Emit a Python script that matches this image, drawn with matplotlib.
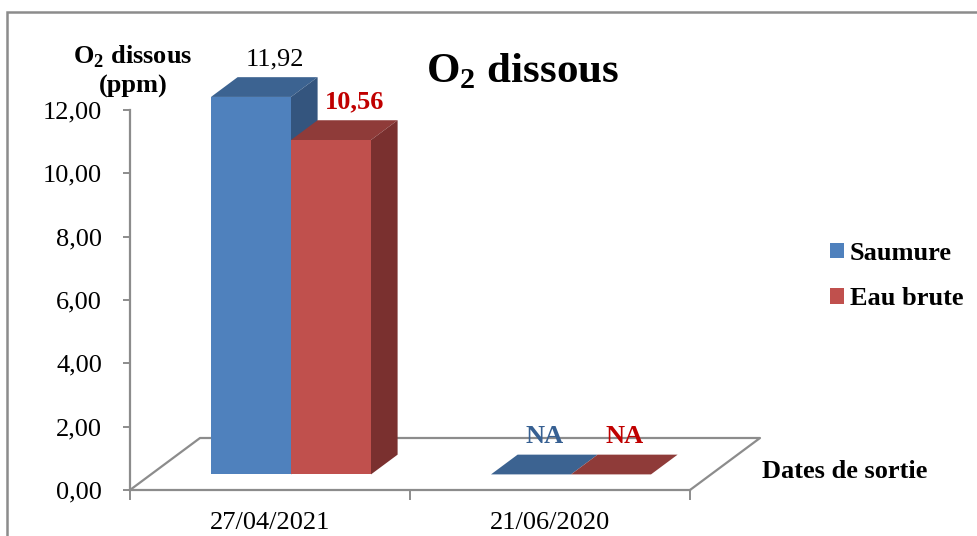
import numpy as np
import matplotlib
matplotlib.use("Agg")
import matplotlib.pyplot as plt
from matplotlib.patches import Polygon, Patch, Rectangle
from matplotlib.lines import Line2D
from matplotlib.transforms import Affine2D

# ---- data ----
dates = ["27/04/2021", "21/06/2020"]
saumure = [11.92, None]     # None -> value not available (NA)
eau_brute = [10.56, None]
series_names = ["Saumure", "Eau brute"]
y_ticks = [0, 2, 4, 6, 8, 10, 12]

# ---- style ----
SERIF = "Liberation Serif"
plt.rcParams["font.family"] = SERIF
plt.rcParams["mathtext.fontset"] = "custom"
plt.rcParams["mathtext.rm"] = SERIF
plt.rcParams["mathtext.bf"] = SERIF + ":bold"
FS = 19
GRAY = "#8c8c8c"

faces = {
    "Saumure": dict(front="#4F81BD", top="#3C6391", side="#34557E", label="#376092"),
    "Eau brute": dict(front="#C0504D", top="#8F3B39", side="#7A302F", label="#C00000"),
}

W, H = 978, 536
fig = plt.figure(figsize=(W / 100, H / 100), dpi=100)
ax = fig.add_axes([130 / W, (H - 490) / H, 560 / W, 380 / H])
ax.set_xlim(-0.5, 1.5)
ax.set_ylim(0, 12)
for s in ("top", "right"):
    ax.spines[s].set_visible(False)
for s in ("left", "bottom"):
    ax.spines[s].set_color(GRAY)
    ax.spines[s].set_linewidth(1.6)
ax.patch.set_alpha(0)

ax.set_yticks(y_ticks)
ax.set_yticklabels([f"{v:.2f}".replace(".", ",") for v in y_ticks], fontsize=FS)
ax.tick_params(axis="y", direction="out", length=5, width=1.4, color=GRAY, pad=15)
ax.set_xticks([-0.5, 0.5, 1.5])
ax.set_xticklabels([])
ax.tick_params(axis="x", which="major", direction="out", length=7, width=1.4, color=GRAY)
ax.set_xticks([0, 1], minor=True)
ax.set_xticklabels(dates, minor=True, fontsize=FS)
ax.tick_params(axis="x", which="minor", length=0, pad=16)

# depth direction of the 3-D floor (pixels) and data-per-pixel factors
DX, DY = 70.0, 52.0
sx = ax.bbox.width / 2.0
sy = ax.bbox.height / 12.0


def proj(x, y, z):
    """Point at data (x, y) pushed back to depth z (0 = front, 1 = back)."""
    return (x + z * DX / sx, y + z * DY / sy)


# floor outline
floor = [proj(-0.5, 0, 0), proj(-0.5, 0, 1), proj(1.5, 0, 1), proj(1.5, 0, 0)]
ax.add_line(Line2D([p[0] for p in floor], [p[1] for p in floor],
                   color=GRAY, lw=1.6, clip_on=False, zorder=1))

# 3-D bars
Z0, Z1 = 0.30, 0.68
bw = 80 / sx
xpos = np.arange(len(dates))
label_dx = [32, 25]          # label offset (points) per date group
front_shift = Affine2D().translate(Z0 * DX, Z0 * DY)
for k, (name, vals) in enumerate(zip(series_names, [saumure, eau_brute])):
    c = faces[name]
    heights = [0.0 if v is None else v for v in vals]
    xs = xpos - bw / 2 + k * bw
    ax.bar(xs, heights, width=bw, color=c["front"], edgecolor="none",
           transform=ax.transData + front_shift, clip_on=False, zorder=3 + k)
    for i, (xc, h, v) in enumerate(zip(xs, heights, vals)):
        x0, x1 = xc - bw / 2, xc + bw / 2
        top = [proj(x0, h, Z0), proj(x1, h, Z0), proj(x1, h, Z1), proj(x0, h, Z1)]
        ax.add_patch(Polygon(top, closed=True, facecolor=c["top"], edgecolor="none",
                             clip_on=False, zorder=3 + k))
        if h > 0:
            side = [proj(x1, 0, Z0), proj(x1, h, Z0), proj(x1, h, Z1), proj(x1, 0, Z1)]
            ax.add_patch(Polygon(side, closed=True, facecolor=c["side"], edgecolor="none",
                                 clip_on=False, zorder=3 + k))
        if v is None:
            txt, col, wt = "NA", c["label"], "bold"
        else:
            txt = f"{v:.2f}".replace(".", ",")
            col, wt = ("black", "normal") if k == 0 else (c["label"], "bold")
        ax.annotate(txt, xy=(xc, h), xytext=(label_dx[i], 34), textcoords="offset points",
                    ha="center", va="baseline", fontsize=FS, color=col,
                    fontweight=wt, annotation_clip=False, zorder=10)

# titles and axis captions
fig.text(523 / W, (H - 82) / H, r"O$_{\mathbf{2}}$ dissous", fontsize=31,
         fontweight="bold", ha="center", va="baseline")
fig.text(133 / W, (H - 63) / H, r"O$_{\mathbf{2}}$ dissous", fontsize=FS,
         fontweight="bold", ha="center", va="baseline")
fig.text(133 / W, (H - 93) / H, "(ppm)", fontsize=FS, fontweight="bold",
         ha="center", va="baseline")
fig.text(762 / W, (H - 478) / H, "Dates de sortie", fontsize=FS,
         fontweight="bold", ha="left", va="baseline")

# legend
handles = [Patch(facecolor=faces[n]["front"], edgecolor="none") for n in series_names]
leg = fig.legend(handles, series_names, loc="upper left",
                 bbox_to_anchor=(830 / W, (H - 242) / H), bbox_transform=fig.transFigure,
                 frameon=False, borderpad=0, borderaxespad=0,
                 handlelength=0.52, handleheight=0.52, handletextpad=0.22,
                 labelspacing=0.85, prop=dict(family=SERIF, weight="bold", size=FS))

# chart frame
fig.patches.append(Rectangle((7 / W, -0.1), 1.2, (H - 12) / H + 0.1,
                             transform=fig.transFigure, fill=False,
                             edgecolor=GRAY, lw=1.8))

fig.savefig("out.png", dpi=100)
